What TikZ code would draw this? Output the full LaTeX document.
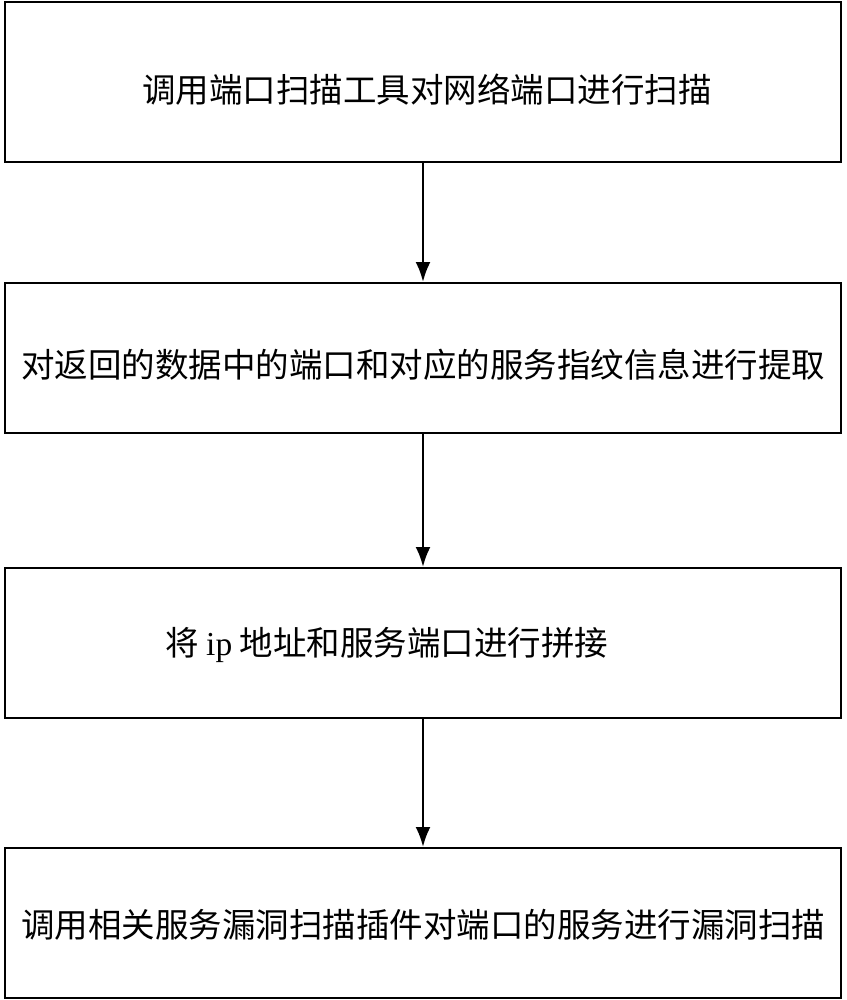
\documentclass[tikz,border=0pt]{standalone}
\usepackage{fontspec}
\setmainfont{Liberation Serif}
\newfontfamily\cjk{Noto Sans CJK SC}
\usetikzlibrary{positioning,arrows.meta}

\tikzset{
  stepbox/.style={draw, line width=2pt, minimum width=836pt, minimum height=150pt, inner sep=0pt},
  steptext/.style={font=\cjk\fontsize{33.5}{40}\selectfont, inner sep=0pt},
  flow/.style={-{Latex[length=20pt,width=15pt]}, line width=2.5pt}
}

\begin{document}
\begin{tikzpicture}[x=1pt,y=-1pt]
\useasboundingbox (0,0) rectangle (846,1000);
% boxes
\node[stepbox, minimum height=160pt] (scan) at (423,82) {};
\node[stepbox] (extract) at (423,358) {};
\node[stepbox] (join) at (423,643) {};
\node[stepbox] (vuln) at (423,923) {};
% texts
\node[steptext] (t1) at (427,90) {调用端口扫描工具对网络端口进行扫描};
\node[steptext] (t2) at (423,365) {对返回的数据中的端口和对应的服务指纹信息进行提取};
\node[steptext, anchor=west] (t3) at (165,645) {将 {\rmfamily ip} 地址和服务端口进行拼接};
\node[steptext] (t4) at (423,925) {调用相关服务漏洞扫描插件对端口的服务进行漏洞扫描};
% arrows
\draw[flow] (scan) -- (extract);
\draw[flow] (extract) -- (join);
\draw[flow] (join) -- (vuln);
\end{tikzpicture}
\end{document}
